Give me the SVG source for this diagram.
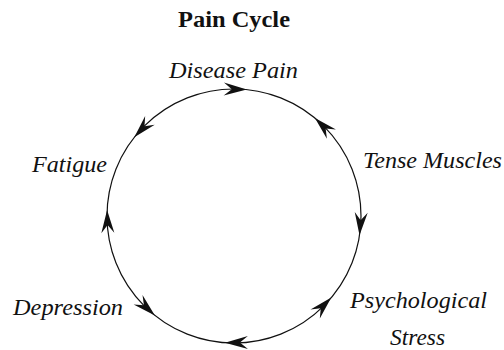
<svg xmlns="http://www.w3.org/2000/svg" xmlns:xlink="http://www.w3.org/1999/xlink" width="504" height="350" viewBox="0 0 504 350">
  <style>
    .title { font-family: "Liberation Serif", "Times New Roman", serif; font-weight: bold; font-size: 24px; fill: #111; }
    .label { font-family: "Liberation Serif", "Times New Roman", serif; font-style: italic; font-size: 24px; fill: #111; }
    .ring { fill: none; stroke: #111; stroke-width: 1.2; }
    .head { fill: #111; stroke: none; }
  </style>
  <defs>
    <!-- barbed arrowhead, tip at origin, pointing along +x -->
    <path id="ah" class="head" d="M0,0 L-23,-6.5 L-15,0 L-23,6.5 Z"/>
  </defs>
  <rect width="504" height="350" fill="#fff"/>

  <text class="title" x="178" y="27" textLength="112" lengthAdjust="spacingAndGlyphs">Pain Cycle</text>

  <g id="connectors">
    <circle class="ring" cx="234" cy="216" r="127"/>
    <use xlink:href="#ah" transform="translate(246.8,89.6) rotate(1.3)"/>
    <use xlink:href="#ah" transform="translate(314.9,118.1) rotate(-135.9)"/>
    <use xlink:href="#ah" transform="translate(359.5,235.3) rotate(94.3)"/>
    <use xlink:href="#ah" transform="translate(331.3,297.6) rotate(-45.5)"/>
    <use xlink:href="#ah" transform="translate(224.9,342.7) rotate(179.6)"/>
    <use xlink:href="#ah" transform="translate(154.9,315.4) rotate(43)"/>
    <use xlink:href="#ah" transform="translate(107.1,210) rotate(268.2)"/>
    <use xlink:href="#ah" transform="translate(134.3,137.3) rotate(132.8)"/>
  </g>

  <g id="disease-pain">
    <text class="label" x="169" y="78" textLength="129" lengthAdjust="spacingAndGlyphs">Disease Pain</text>
  </g>
  <g id="tense-muscles">
    <text class="label" x="363" y="168" textLength="139" lengthAdjust="spacingAndGlyphs">Tense Muscles</text>
  </g>
  <g id="psychological-stress">
    <text class="label" x="350" y="308" textLength="137" lengthAdjust="spacingAndGlyphs">Psychological</text>
    <text class="label" x="390" y="345" textLength="55" lengthAdjust="spacingAndGlyphs">Stress</text>
  </g>
  <g id="depression">
    <text class="label" x="13" y="315" textLength="110" lengthAdjust="spacingAndGlyphs">Depression</text>
  </g>
  <g id="fatigue">
    <text class="label" x="32" y="172" textLength="75" lengthAdjust="spacingAndGlyphs">Fatigue</text>
  </g>
</svg>
